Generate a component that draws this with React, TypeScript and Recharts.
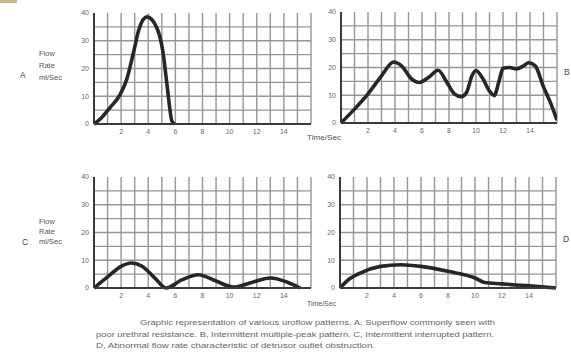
import React from "react";
import { LineChart, Line, XAxis, YAxis, ReferenceLine } from "recharts";

// ---- Data (time in seconds, flow rate in ml/sec) ----
const timeA = [0, 0.5, 1.2, 1.9, 2.4, 2.9, 3.3, 3.9, 4.6, 5.1, 5.4, 5.75, 5.95];
const flowA = [0, 2, 6, 10.4, 15.9, 25.5, 33.9, 38.6, 35, 25.5, 13.4, 1, 0];

const timeB = [0, 1, 2, 3, 3.9, 4.5, 5.2, 5.8, 6.5, 7.2, 7.8, 8.4, 8.9, 9.3, 9.7, 10, 10.5, 11, 11.35, 11.7, 12, 12.5, 13, 13.5, 13.9, 14.4, 15, 15.5, 16];
const flowB = [0, 5, 10.5, 17, 22, 20.5, 16, 14.6, 16.5, 19, 15, 10.5, 9.5, 11, 17, 18.9, 16, 11.5, 9.9, 15, 19.7, 20, 19.5, 20.5, 21.7, 20.5, 13, 7.5, 1];

const timeC = [0, 1, 2, 2.75, 3.5, 4.5, 5.3, 6.5, 7.7, 9, 10.3, 11.5, 13, 14.3, 15.2];
const flowC = [0, 4, 7.8, 9, 8, 3.5, 0, 3, 4.8, 2.5, 0.3, 1.8, 3.6, 2, 0];

const timeD = [0, 0.5, 1.5, 3, 4.5, 6, 8, 10, 10.7, 12, 13, 14.5, 16];
const flowD = [0, 2.5, 5.4, 7.8, 8.4, 7.8, 6, 3.6, 2, 1.5, 1.1, 0.6, 0];

const xTicks = [2, 4, 6, 8, 10, 12, 14];
const yTicks = [0, 10, 20, 30, 40];
const xGrid = [1, 2, 3, 4, 5, 6, 7, 8, 9, 10, 11, 12, 13, 14, 15, 16];
const yGrid = [5, 10, 15, 20, 25, 30, 35];

const panelLetters = ["A", "B", "C", "D"];
const axisTitle = ["Flow", "Rate", "ml/Sec"];
const timeTitle = "Time/Sec";
const captionLines = [
  "Graphic representation of various uroflow patterns. A, Superflow commonly seen with",
  "poor urethral resistance. B, Intermittent multiple-peak pattern. C, Intermittent interrupted pattern.",
  "D, Abnormal flow rate characteristic of detrusor outlet obstruction.",
];

const toRows = (t: number[], v: number[]) => t.map((x, i) => ({ t: x, v: v[i] }));

const FONT = "'Liberation Sans', Arial, sans-serif";
const YW = 30;
const MT = 6;
const MR = 6;
const XH = 20;
const GRID = "#969696";

function Panel({ rows, left, top, width, height }: { rows: { t: number; v: number }[]; left: number; top: number; width: number; height: number }) {
  return (
    <div style={{ position: "absolute", left: left - YW, top: top - MT }}>
      <LineChart
        width={YW + width + MR}
        height={MT + height + XH}
        data={rows}
        margin={{ top: MT, right: MR, bottom: 0, left: 0 }}
      >
        <XAxis
          type="number"
          dataKey="t"
          domain={[0, 16]}
          ticks={xTicks}
          allowDataOverflow
          height={XH}
          tickLine={false}
          tickSize={0}
          tickMargin={5}
          axisLine={{ stroke: "#3a3a3a", strokeWidth: 2 }}
          tick={{ fontSize: 7, fill: "#666", fontFamily: FONT }}
        />
        <YAxis
          type="number"
          domain={[0, 40]}
          ticks={yTicks}
          width={YW}
          tickLine={false}
          tickSize={0}
          tickMargin={5}
          axisLine={{ stroke: "#3a3a3a", strokeWidth: 2 }}
          tick={{ fontSize: 7, fill: "#666", fontFamily: FONT }}
        />
        {xGrid.map((g) => (
          <ReferenceLine key={"x" + g} x={g} stroke={GRID} strokeWidth={1.4} />
        ))}
        {yGrid.map((g) => (
          <ReferenceLine key={"y" + g} y={g} stroke={GRID} strokeWidth={1.4} />
        ))}
        <Line
          type="monotone"
          dataKey="v"
          stroke="#262626"
          strokeWidth={3.6}
          dot={false}
          isAnimationActive={false}
        />
      </LineChart>
    </div>
  );
}

export default function App() {
  const small = { fontSize: 7.5, fill: "#555", fontFamily: FONT } as const;
  return (
    <div style={{ position: "absolute", left: 0, top: 0, width: 571, height: 352, background: "#fff", overflow: "hidden" }}>
      <Panel rows={toRows(timeA, flowA)} left={94} top={13} width={217} height={111} />
      <Panel rows={toRows(timeB, flowB)} left={341} top={12} width={216} height={111} />
      <Panel rows={toRows(timeC, flowC)} left={94} top={177} width={217} height={111} />
      <Panel rows={toRows(timeD, flowD)} left={340} top={177} width={216} height={111} />
      <svg width={571} height={352} style={{ position: "absolute", left: 0, top: 0, pointerEvents: "none" }}>
        <rect x={0} y={0} width={17} height={3} fill="#c9b98c" />
        {/* Panel A labels */}
        <text x={39} y={56} {...small}>{axisTitle[0]}</text>
        <text x={39} y={68} {...small}>{axisTitle[1]}</text>
        <text x={39} y={80} {...small}>{axisTitle[2]}</text>
        <text x={20} y={78} fontSize={8.5} fill="#444" fontFamily={FONT}>{panelLetters[0]}</text>
        {/* Panel B */}
        <text x={564} y={75} fontSize={8.5} fill="#444" fontFamily={FONT}>{panelLetters[1]}</text>
        <text x={307} y={140} {...small} fontSize={6.5} textLength={34} lengthAdjust="spacingAndGlyphs">{timeTitle}</text>
        {/* Panel C */}
        <text x={39} y={224} {...small}>{axisTitle[0]}</text>
        <text x={39} y={234} {...small}>{axisTitle[1]}</text>
        <text x={39} y={244} {...small}>{axisTitle[2]}</text>
        <text x={22} y={245} fontSize={8.5} fill="#444" fontFamily={FONT}>{panelLetters[2]}</text>
        {/* Panel D */}
        <text x={563} y={242} fontSize={8.5} fill="#444" fontFamily={FONT}>{panelLetters[3]}</text>
        <text x={307} y={306} {...small} fontSize={6.5} textLength={29} lengthAdjust="spacingAndGlyphs">{timeTitle}</text>
        {/* Caption */}
        <text x={140} y={325} fontSize={7} fill="#666" fontFamily={FONT} textLength={355} lengthAdjust="spacingAndGlyphs">{captionLines[0]}</text>
        <text x={96} y={337} fontSize={7} fill="#666" fontFamily={FONT} textLength={398} lengthAdjust="spacingAndGlyphs">{captionLines[1]}</text>
        <text x={96} y={348} fontSize={7} fill="#666" fontFamily={FONT} textLength={279} lengthAdjust="spacingAndGlyphs">{captionLines[2]}</text>
      </svg>
    </div>
  );
}
